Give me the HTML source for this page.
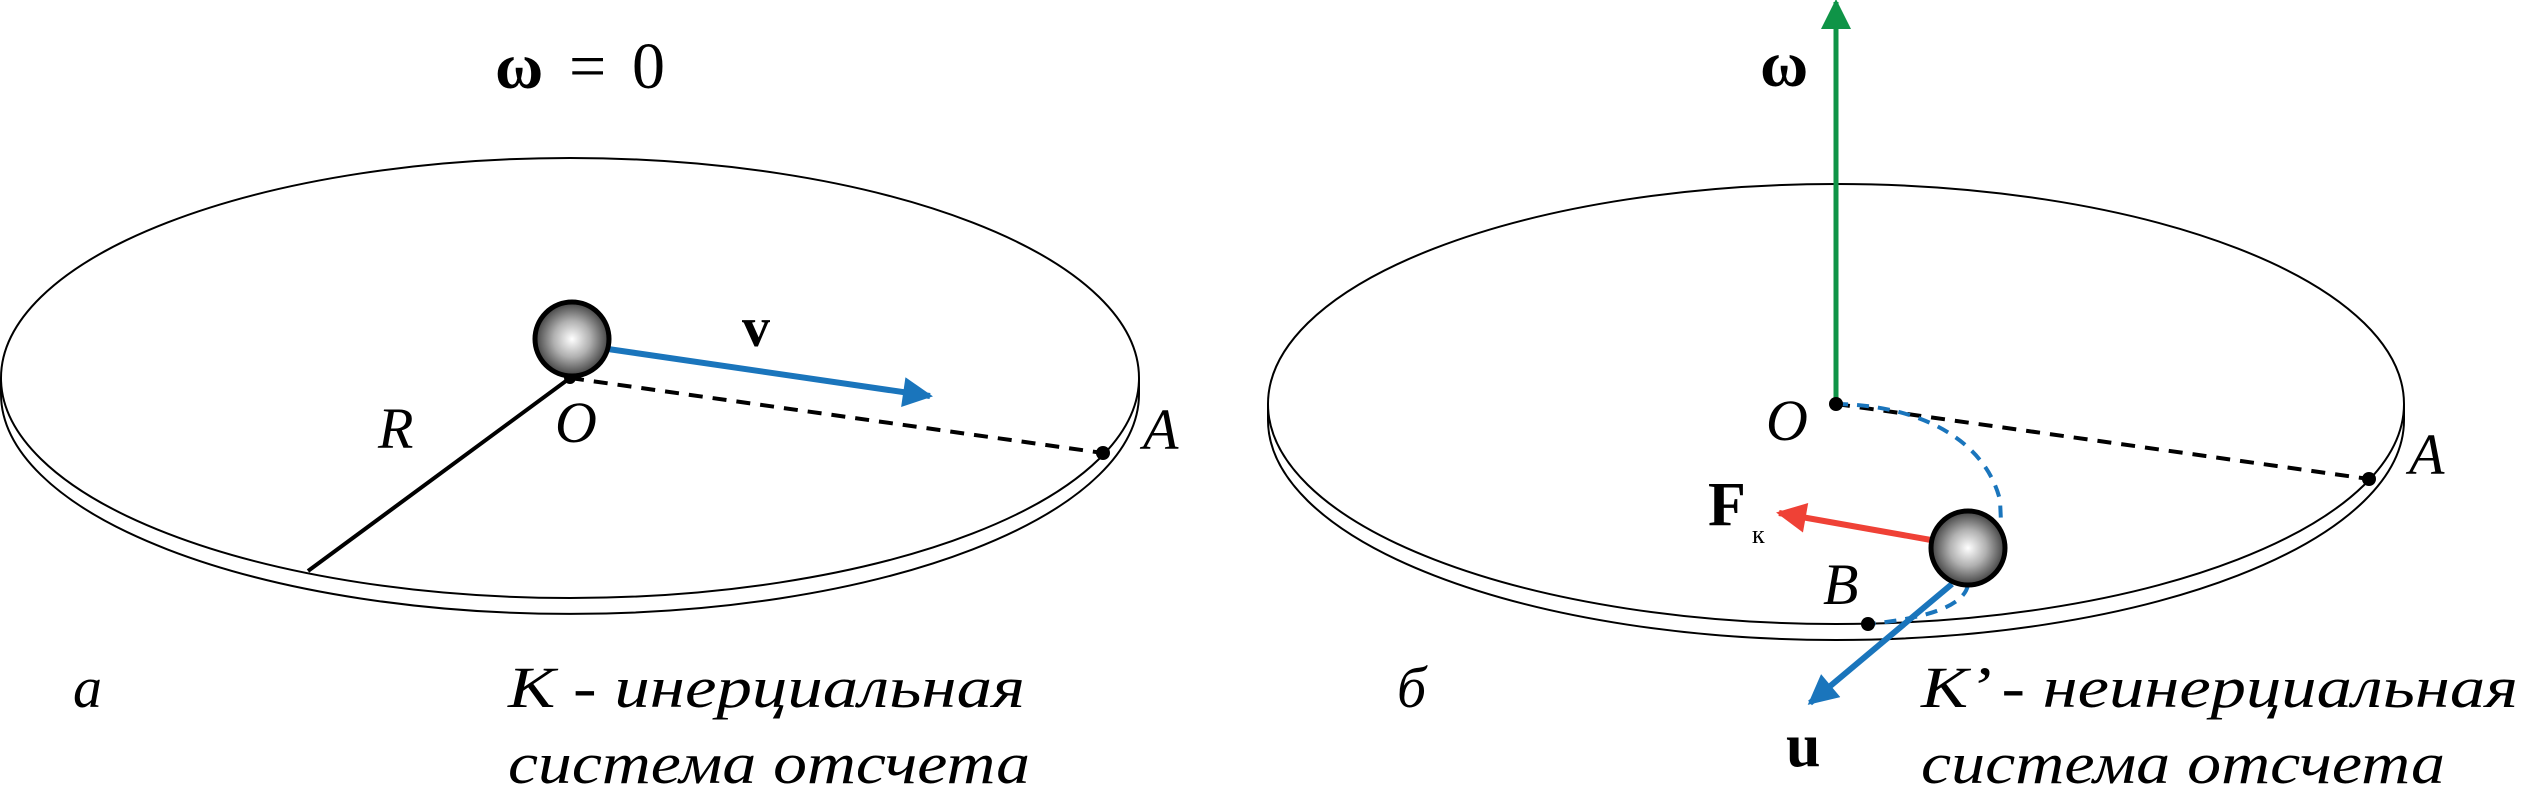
<!DOCTYPE html>
<html><head><meta charset="utf-8"><style>
html,body{margin:0;padding:0;background:#fff;}
svg{display:block;}
text{font-family:"Liberation Serif",serif;}
.it{font-style:italic;}
</style></head><body>
<svg width="2526" height="797" viewBox="0 0 2526 797">
<defs>
<radialGradient id="ball" cx="50%" cy="50%" r="55%">
<stop offset="0" stop-color="#ffffff"/><stop offset="0.45" stop-color="#b0b0b0"/><stop offset="1" stop-color="#2a2a2a"/>
</radialGradient>
<marker id="hb" viewBox="0 0 10 10" refX="9" refY="5" markerWidth="6" markerHeight="5" orient="auto" markerUnits="strokeWidth"><path d="M0,0 L10,5 L0,10 z" fill="#1a75bc"/></marker>
<marker id="hr" viewBox="0 0 10 10" refX="9" refY="5" markerWidth="6" markerHeight="5" orient="auto" markerUnits="strokeWidth"><path d="M0,0 L10,5 L0,10 z" fill="#ef4136"/></marker>
<marker id="hg" viewBox="0 0 10 10" refX="9" refY="5" markerWidth="6" markerHeight="6" orient="auto" markerUnits="strokeWidth"><path d="M0,0 L10,5 L0,10 z" fill="#0f9447"/></marker>
</defs>

<g>
<path d="M1,378 L1,394 A569,220 0 0 0 1139,394 L1139,378" fill="#fff" stroke="#000" stroke-width="2"/>
<ellipse cx="570" cy="378" rx="569" ry="220" fill="#fff" stroke="#000" stroke-width="2"/>
<line x1="570" y1="378" x2="308" y2="571" stroke="#000" stroke-width="4"/>
<line x1="570" y1="378" x2="1103" y2="453" stroke="#000" stroke-width="4" stroke-dasharray="14,10"/>
<circle cx="570" cy="378" r="6" fill="#000"/>
<circle cx="1103" cy="453" r="7" fill="#000"/>
<line x1="608" y1="349" x2="930" y2="396" stroke="#1a75bc" stroke-width="6" marker-end="url(#hb)"/>
<circle cx="572" cy="339" r="37" fill="url(#ball)" stroke="#000" stroke-width="5"/>
<text x="495" y="88" font-size="66" textLength="170" lengthAdjust="spacing"><tspan font-weight="bold">ω</tspan> = 0</text>
<text x="742" y="346" font-size="56" font-weight="bold">v</text>
<text class="it" x="378" y="448" font-size="58">R</text>
<text class="it" x="555" y="442" font-size="58">O</text>
<text class="it" x="1143" y="449" font-size="58">A</text>
<text class="it" x="73" y="707" font-size="58">а</text>
<text class="it" x="508" y="707" font-size="58" textLength="517" lengthAdjust="spacingAndGlyphs">K - инерциальная</text>
<text class="it" x="508" y="783" font-size="58" textLength="522" lengthAdjust="spacingAndGlyphs">система отсчета</text>
</g>

<g>
<path d="M1268,404 L1268,420 A568,220 0 0 0 2404,420 L2404,404" fill="#fff" stroke="#000" stroke-width="2"/>
<ellipse cx="1836" cy="404" rx="568" ry="220" fill="#fff" stroke="#000" stroke-width="2"/>
<line x1="1836" y1="404" x2="1836" y2="2" stroke="#0f9447" stroke-width="5" marker-end="url(#hg)"/>
<line x1="1836" y1="404" x2="2369" y2="479" stroke="#000" stroke-width="4" stroke-dasharray="14,10"/>
<path d="M1836,404 C1920,405 1985,440 2000,500 L2001,522 M1968,585 Q1962,615 1868,624" fill="none" stroke="#1a75bc" stroke-width="4" stroke-dasharray="12,9"/>
<circle cx="1836" cy="404" r="7" fill="#000"/>
<circle cx="2369" cy="479" r="7" fill="#000"/>
<circle cx="1868" cy="624" r="7" fill="#000"/>
<line x1="1931" y1="540" x2="1779" y2="513" stroke="#ef4136" stroke-width="6" marker-end="url(#hr)"/>
<line x1="1952" y1="584" x2="1810" y2="703" stroke="#1a75bc" stroke-width="6" marker-end="url(#hb)"/>
<circle cx="1968" cy="548" r="37" fill="url(#ball)" stroke="#000" stroke-width="5"/>
<text x="1760" y="86" font-size="66" font-weight="bold">ω</text>
<text class="it" x="1766" y="440" font-size="58">O</text>
<text class="it" x="2409" y="474" font-size="58">A</text>
<text x="1708" y="525" font-size="62" font-weight="bold">F</text>
<text x="1752" y="543" font-size="26">к</text>
<text class="it" x="1823" y="604" font-size="58">B</text>
<text x="1786" y="766" font-size="62" font-weight="bold">u</text>
<text class="it" x="1397" y="707" font-size="58">б</text>
<text class="it" x="1921" y="707" font-size="58" textLength="597" lengthAdjust="spacingAndGlyphs">K’ - неинерциальная</text>
<text class="it" x="1921" y="783" font-size="58" textLength="524" lengthAdjust="spacingAndGlyphs">система отсчета</text>
</g>
</svg>
</body></html>
